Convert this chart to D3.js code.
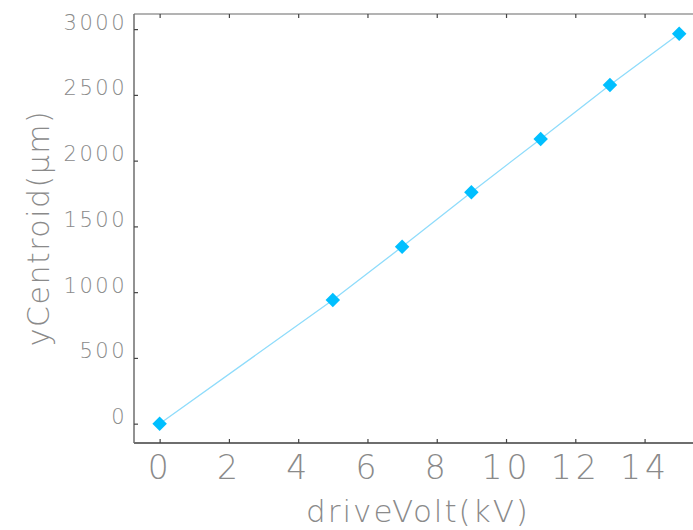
<!DOCTYPE html>
<html>
<head>
<meta charset="utf-8">
<script src="https://cdn.jsdelivr.net/npm/d3@7"></script>
<style>
  html, body { margin: 0; padding: 0; background: #fff; }
  svg { display: block; }
  text { font-family: "DejaVu Sans", sans-serif; font-weight: 200; fill: #8a8a8a; }
</style>
</head>
<body>
<svg id="chart" width="693" height="530"></svg>
<script>
const driveVolt = [0, 5, 7, 9, 11, 13, 15];
const yCentroid = [0, 940, 1345, 1760, 2165, 2575, 2965];
const xTicks = [0, 2, 4, 6, 8, 10, 12, 14];
const yTicks = [0, 500, 1000, 1500, 2000, 2500, 3000];
const xTitle = "driveVolt(kV)";
const yTitle = "yCentroid(\u03BCm)";

(function () {
const W = 693, H = 530;
const mLeft = 134, mTop = 14, mBottom = 443, mRight = 700;

const svg = d3.select("#chart");

const x = d3.scaleLinear().domain([-0.74, 15.6]).range([mLeft, mRight]);
const y = d3.scaleLinear().domain([-147, 3115]).range([mBottom, mTop]);

const axisColor = "#6e6e6e";

// frame
const frame = svg.append("g");
frame.append("line").attr("x1", mLeft).attr("x2", W).attr("y1", mTop).attr("y2", mTop)
  .attr("stroke", "#9a9a9a").attr("stroke-width", 1.5);
frame.append("line").attr("x1", mLeft).attr("x2", mLeft).attr("y1", mTop).attr("y2", mBottom)
  .attr("stroke", axisColor).attr("stroke-width", 1.5);
frame.append("line").attr("x1", mLeft).attr("x2", W).attr("y1", mBottom).attr("y2", mBottom)
  .attr("stroke", axisColor).attr("stroke-width", 2);

// bottom axis
const xAxis = d3.axisBottom(x).tickValues(xTicks).tickSizeInner(-4).tickSizeOuter(0).tickPadding(12);
const gx = svg.append("g").attr("transform", `translate(0,${mBottom})`).call(xAxis);
gx.select(".domain").remove();
gx.selectAll(".tick line").attr("stroke", "#444").attr("stroke-width", 1.2);
gx.selectAll(".tick text").attr("font-size", 33).attr("fill", "#8a8a8a")
  .attr("letter-spacing", 4).attr("dy", "0.72em")
  .attr("font-family", "DejaVu Sans, sans-serif");

// top ticks
const xAxisTop = d3.axisTop(x).tickValues(xTicks).tickSizeInner(-4).tickSizeOuter(0).tickFormat("");
const gxt = svg.append("g").attr("transform", `translate(0,${mTop})`).call(xAxisTop);
gxt.select(".domain").remove();
gxt.selectAll(".tick line").attr("stroke", "#444").attr("stroke-width", 1.2);

// left axis
const yAxis = d3.axisLeft(y).tickValues(yTicks).tickFormat(d3.format("d"))
  .tickSizeInner(-4).tickSizeOuter(0).tickPadding(7);
const gy = svg.append("g").attr("transform", `translate(${mLeft},0)`).call(yAxis);
gy.select(".domain").remove();
gy.selectAll(".tick line").attr("stroke", "#444").attr("stroke-width", 1.2);
gy.selectAll(".tick text").attr("font-size", 21).attr("fill", "#8a8a8a")
  .attr("letter-spacing", 2.5).attr("dy", "0")
  .attr("font-family", "DejaVu Sans, sans-serif");

// line
const data = driveVolt.map((v, i) => ({ x: v, y: yCentroid[i] }));
const line = d3.line().x(d => x(d.x)).y(d => y(d.y));
svg.append("path").datum(data).attr("d", line)
  .attr("fill", "none").attr("stroke", "#8fdcfb").attr("stroke-width", 1.3);

// markers
svg.append("g").selectAll("path").data(data).join("path")
  .attr("d", d3.symbol().type(d3.symbolSquare).size(105))
  .attr("transform", d => `translate(${x(d.x)},${y(d.y)}) rotate(45)`)
  .attr("fill", "#00bfff");

// titles
svg.append("text").attr("x", 418).attr("y", 522).attr("text-anchor", "middle")
  .attr("font-size", 31).attr("letter-spacing", 2).text(xTitle);
svg.append("text").attr("transform", `translate(49,228) rotate(-90)`)
  .attr("text-anchor", "middle").attr("font-size", 30).attr("letter-spacing", 1.5).text(yTitle);
})();
</script>
</body>
</html>
